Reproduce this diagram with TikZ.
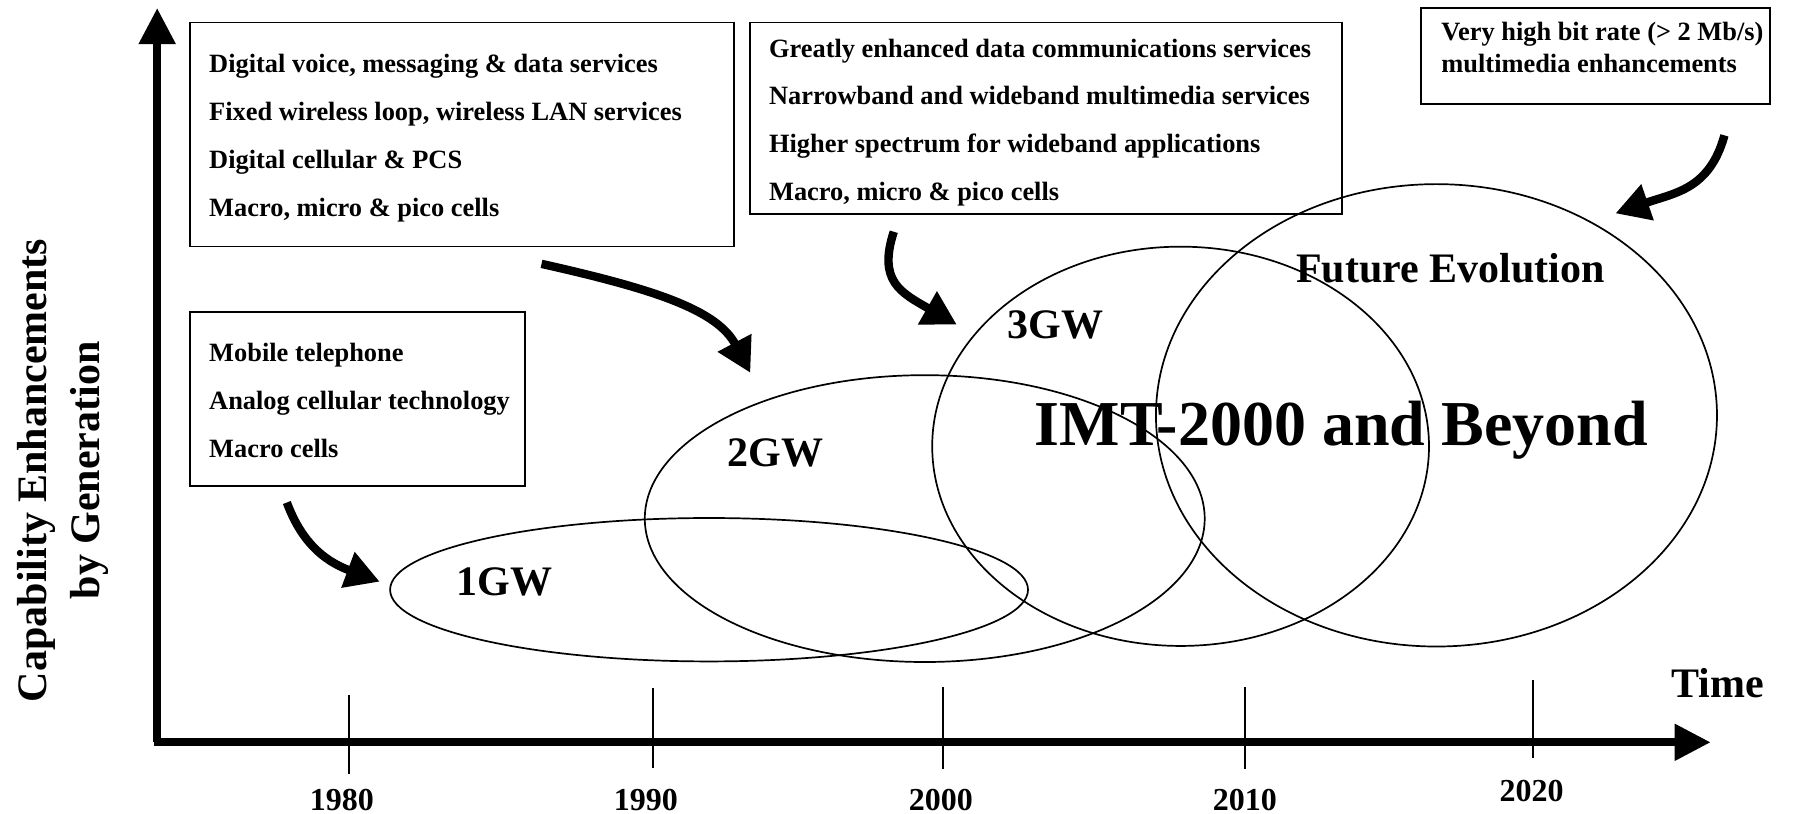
\documentclass[tikz,border=0pt]{standalone}
\usepackage{fontspec}
\setmainfont{Liberation Serif}
\usetikzlibrary{arrows.meta,shapes.geometric}
\def\u{0.5737pt}
\begin{document}
\begin{tikzpicture}[x=0.5737pt,y=-0.5737pt,
  infobox/.style={draw, line width=0.85pt, anchor=north west, inner sep=0pt},
  boxtxt/.style={anchor=base west, inner sep=0pt, font=\fontsize{13.2}{16}\selectfont\bfseries},
  gen/.style={ellipse, draw, line width=0.85pt, inner sep=0pt},
  genlabel/.style={inner sep=0pt, font=\fontsize{21}{24}\selectfont\bfseries},
  yearlabel/.style={anchor=base, inner sep=0pt, font=\fontsize{16}{18}\selectfont\bfseries},
  tickline/.style={line width=0.75pt},
  axisline/.style={line width=4pt, -{Triangle[length=18pt,width=17.5pt]}},
  bigarrow/.style={line width=4.2pt, -{Triangle[length=17pt,width=18pt]}}
]
\useasboundingbox (0,0) rectangle (1568,709);

% axes
\coordinate (corner) at (137,647);
\coordinate (xstart) at (134,647);
\coordinate (ytip) at (137,7);
\coordinate (xtip) at (1491,647);
\draw[axisline] (corner) -- (ytip);
\draw[axisline] (xstart) -- (xtip);

% ticks and years
\draw[tickline] (304,606) -- (304,675);
\draw[tickline] (569,600) -- (569,669);
\draw[tickline] (822,599) -- (822,670);
\draw[tickline] (1085,599) -- (1085,670);
\draw[tickline] (1336,593) -- (1336,661);
\node[yearlabel] (y1980) at (298,706) {1980};
\node[yearlabel] (y1990) at (563,706) {1990};
\node[yearlabel] (y2000) at (820,706) {2000};
\node[yearlabel] (y2010) at (1085,706) {2010};
\node[yearlabel] (y2020) at (1335,699) {2020};

\node[genlabel] (time) at (1497,595) {Time};
\node[rotate=90, align=center, inner sep=0pt, font=\fontsize{21}{26.5}\selectfont\bfseries] (ylab) at (55,410) {Capability Enhancements\\by Generation};

% generation ellipses
\node[gen, minimum width=556*\u, minimum height=125*\u] (g1) at (618,514) {};
\node[gen, minimum width=488*\u, minimum height=250*\u] (g2) at (806,452) {};
\node[gen, minimum width=433*\u, minimum height=348*\u] (g3) at (1029,389) {};
\node[gen, minimum width=489*\u, minimum height=403*\u] (g4) at (1252,362) {};

\node[genlabel] (l1) at (440,507) {1GW};
\node[genlabel] (l2) at (676,395) {2GW};
\node[genlabel] (l3) at (920,283) {3GW};
\node[genlabel] (l4) at (1264,234) {Future Evolution};
\node[anchor=base, inner sep=0pt, font=\fontsize{32}{36}\selectfont\bfseries] (imt) at (1169,388) {IMT-2000 and Beyond};

% info boxes
\node[infobox, minimum width=474*\u, minimum height=195*\u] (boxA) at (165,19) {};
\node[boxtxt] (a1) at (182,63) {Digital voice, messaging \& data services};
\node[boxtxt] (a2) at (182,105) {Fixed wireless loop, wireless LAN services};
\node[boxtxt] (a3) at (182,147) {Digital cellular \& PCS};
\node[boxtxt] (a4) at (182,189) {Macro, micro \& pico cells};

\node[infobox, minimum width=292*\u, minimum height=152*\u] (boxB) at (165,271) {};
\node[boxtxt] (b1) at (182,315) {Mobile telephone};
\node[boxtxt] (b2) at (182,357) {Analog cellular technology};
\node[boxtxt] (b3) at (182,399) {Macro cells};

\node[infobox, minimum width=516*\u, minimum height=167*\u] (boxC) at (653,19) {};
\node[boxtxt] (c1) at (670,50) {Greatly enhanced data communications services};
\node[boxtxt] (c2) at (670,91) {Narrowband and wideband multimedia services};
\node[boxtxt] (c3) at (670,133) {Higher spectrum for wideband applications};
\node[boxtxt] (c4) at (670,175) {Macro, micro \& pico cells};

\node[infobox, minimum width=304*\u, minimum height=84*\u] (boxD) at (1238,6) {};
\node[boxtxt] (d1) at (1256,35) {Very high bit rate (> 2 Mb/s)};
\node[boxtxt] (d2) at (1256,63) {multimedia enhancements};

% curved arrows
\coordinate (s1) at (250,438);
\coordinate (e1) at (331,507);
\coordinate (s2) at (472,230);
\coordinate (e2) at (654,325);
\coordinate (s3) at (779,202);
\coordinate (e3) at (834,283);
\coordinate (s4) at (1503,118);
\coordinate (e4) at (1408,186);
\draw[bigarrow] (s1) .. controls (262,470) and (280,488) .. (e1);
\draw[bigarrow] (s2) .. controls (570,252) and (625,270) .. (e2);
\draw[bigarrow] (s3) .. controls (765,245) and (785,255) .. (e3);
\draw[bigarrow] (s4) .. controls (1490,165) and (1460,168) .. (e4);
\end{tikzpicture}
\end{document}
